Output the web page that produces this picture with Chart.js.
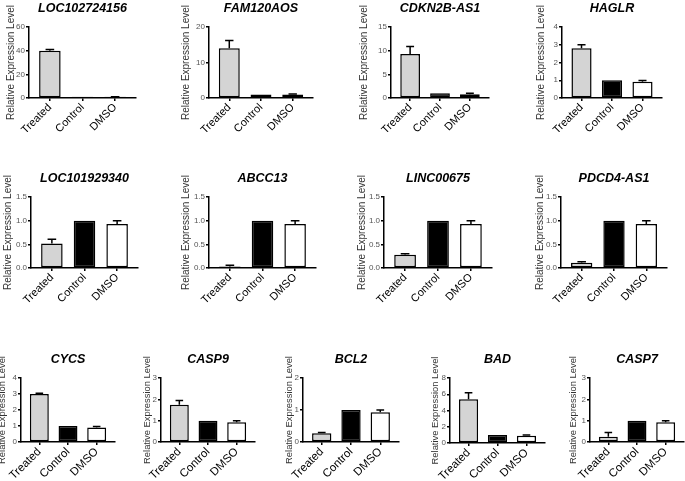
<!DOCTYPE html>
<html>
<head>
<meta charset="utf-8">
<script src="https://cdn.jsdelivr.net/npm/chart.js@4.4.0/dist/chart.umd.min.js"></script>
<style>
	html, body { margin: 0; padding: 0; background: #fff; }
	body { width: 685px; height: 481px; position: relative; overflow: hidden; }
	.panel { position: absolute; }
</style>
</head>
<body>
<script>
// Data.
var categories = ['Treated', 'Control', 'DMSO'];
var genes = ['LOC102724156', 'FAM120AOS', 'CDKN2B-AS1', 'HAGLR',
	'LOC101929340', 'ABCC13', 'LINC00675', 'PDCD4-AS1',
	'CYCS', 'CASP9', 'BCL2', 'BAD', 'CASP7'];
var treatedMeans = [40, 14, 9.3, 2.8, 0.52, 0.03, 0.28, 0.11, 3.0, 1.75, 0.27, 5.4, 0.25];
var treatedErr = [1, 2.2, 1.6, 0.2, 0.09, 0.03, 0.02, 0.02, 0.05, 0.2, 0.03, 0.8, 0.2];
var controlMeans = [1, 1, 1, 1, 1, 1, 1, 1, 1, 1, 1, 1, 1];
var dmsoMeans = [1, 1, 0.8, 0.92, 0.93, 0.93, 0.93, 0.93, 0.9, 0.93, 0.93, 0.9, 0.93];
var dmsoErr = [0.1, 0.15, 0.2, 0.07, 0.07, 0.07, 0.07, 0.07, 0.07, 0.07, 0.07, 0.08, 0.07];
var yMax = [60, 20, 15, 4, 1.5, 1.5, 1.5, 1.5, 4, 3, 2, 8, 3];
var yStep = [20, 10, 5, 1, 0.5, 0.5, 0.5, 0.5, 1, 1, 1, 2, 1];

// Plot-area boxes in page pixels: axis left, axis right, top, zero line, y-title gap, row.
var boxes = [
	[29, 136, 27, 98, 18, 0], [209, 313, 27, 98, 23, 0], [391, 489, 27, 98, 27, 0], [562, 662, 27, 98, 21, 0],
	[31, 138, 197, 268, 23, 1], [209, 316, 197, 268, 23, 1], [384, 492, 197, 268, 22, 1], [561, 667, 197, 268, 21, 1],
	[21, 115, 378, 442, 18, 2], [161, 255, 378, 442, 13, 2], [303, 399, 378, 442, 13, 2], [450, 545, 378, 443, 14, 2],
	[590, 684, 378, 442, 16, 2]
];
var rowStyle = [
	{ yTitle: 10, xLabel: 11, xHeight: 34 },
	{ yTitle: 10, xLabel: 11, xHeight: 36 },
	{ yTitle: 9.4, xLabel: 11.5, xHeight: 38 }
];

var FONT = '"Liberation Sans", Arial, Helvetica, sans-serif';
Chart.defaults.font.family = FONT;
Chart.defaults.animation = false;

var errorBars = {
	id: 'errorBars',
	afterDatasetsDraw: function(chart, args, opts) {
		var meta = chart.getDatasetMeta(0);
		var yScale = chart.scales.y;
		var ctx = chart.ctx;
		ctx.save();
		ctx.strokeStyle = '#000';
		ctx.lineWidth = 1.5;
		meta.data.forEach(function(bar, i) {
			var e = opts.errors[i];
			if (!e) return;
			var top = yScale.getPixelForValue(opts.means[i] + e);
			var half = bar.width * 0.2;
			ctx.beginPath();
			ctx.moveTo(bar.x, bar.y);
			ctx.lineTo(bar.x, top);
			ctx.moveTo(bar.x - half, top);
			ctx.lineTo(bar.x + half, top);
			ctx.stroke();
		});
		ctx.restore();
	}
};

var panelTitle = {
	id: 'panelTitle',
	afterDraw: function(chart, args, opts) {
		var a = chart.chartArea;
		var ctx = chart.ctx;
		ctx.save();
		ctx.fillStyle = '#000';
		ctx.font = 'italic bold 12.5px ' + FONT;
		ctx.textAlign = 'center';
		ctx.textBaseline = 'middle';
		ctx.fillText(opts.text, (a.left + a.right) / 2, a.top - 18);
		ctx.restore();
	}
};

var TOP_PAD = 26;

genes.forEach(function(gene, i) {
	var b = boxes[i];
	var rs = rowStyle[b[5]];
	var yWidth = b[4] + 6;
	var left = b[0] - yWidth - 2;
	var top = b[2] - TOP_PAD;
	var width = b[1] - b[0] + yWidth + 4;
	var height = b[3] - b[2] + TOP_PAD + rs.xHeight;

	var div = document.createElement('div');
	div.className = 'panel';
	div.style.left = left + 'px';
	div.style.top = top + 'px';
	div.style.width = width + 'px';
	div.style.height = height + 'px';
	var canvas = document.createElement('canvas');
	div.appendChild(canvas);
	document.body.appendChild(div);

	var step = yStep[i];
	var means = [treatedMeans[i], controlMeans[i], dmsoMeans[i]];

	new Chart(canvas, {
		type: 'bar',
		data: {
			datasets: [{
				data: means.map(function(v, k) { return { x: k, y: v }; }),
				backgroundColor: ['#d4d4d4', '#000000', '#ffffff'],
				borderColor: '#000',
				borderWidth: 1.5,
				borderSkipped: false,
				barPercentage: 0.66,
				categoryPercentage: 1
			}]
		},
		options: {
			responsive: true,
			maintainAspectRatio: false,
			devicePixelRatio: 1,
			layout: { padding: { top: TOP_PAD, left: 2, right: 2, bottom: 0 } },
			plugins: {
				legend: { display: false },
				tooltip: { enabled: false },
				errorBars: { errors: [treatedErr[i], 0, dmsoErr[i]], means: means },
				panelTitle: { text: gene }
			},
			scales: {
				x: {
					type: 'linear',
					offset: false,
					bounds: 'data',
					min: -0.64,
					max: 2.64,
					afterBuildTicks: function(s) {
						s.ticks = categories.map(function(c, k) { return { value: k }; });
					},
					ticks: {
						color: '#000',
						font: { size: rs.xLabel },
						maxRotation: 45,
						minRotation: 45,
						autoSkip: false,
						padding: 0,
						callback: function(v) { return categories[v]; }
					},
					grid: { offset: false, drawOnChartArea: false, tickLength: 3, color: '#000', lineWidth: 1.5 },
					border: { color: '#000', width: 1.5 },
					afterFit: function(s) { s.height = rs.xHeight; }
				},
				y: {
					min: 0,
					max: yMax[i],
					ticks: {
						stepSize: step,
						color: '#555',
						font: { size: 8 },
						padding: 1,
						callback: function(v) { return step < 1 ? v.toFixed(1) : String(v); }
					},
					grid: { drawOnChartArea: false, tickLength: 3, color: '#000', lineWidth: 1.5 },
					border: { color: '#000', width: 1.5 },
					title: {
						display: true,
						text: 'Relative Expression Level',
						color: '#333',
						font: { size: rs.yTitle },
						padding: 0
					},
					afterFit: function(s) { s.width = yWidth; }
				}
			}
		},
		plugins: [errorBars, panelTitle]
	});
});
</script>
</body>
</html>
